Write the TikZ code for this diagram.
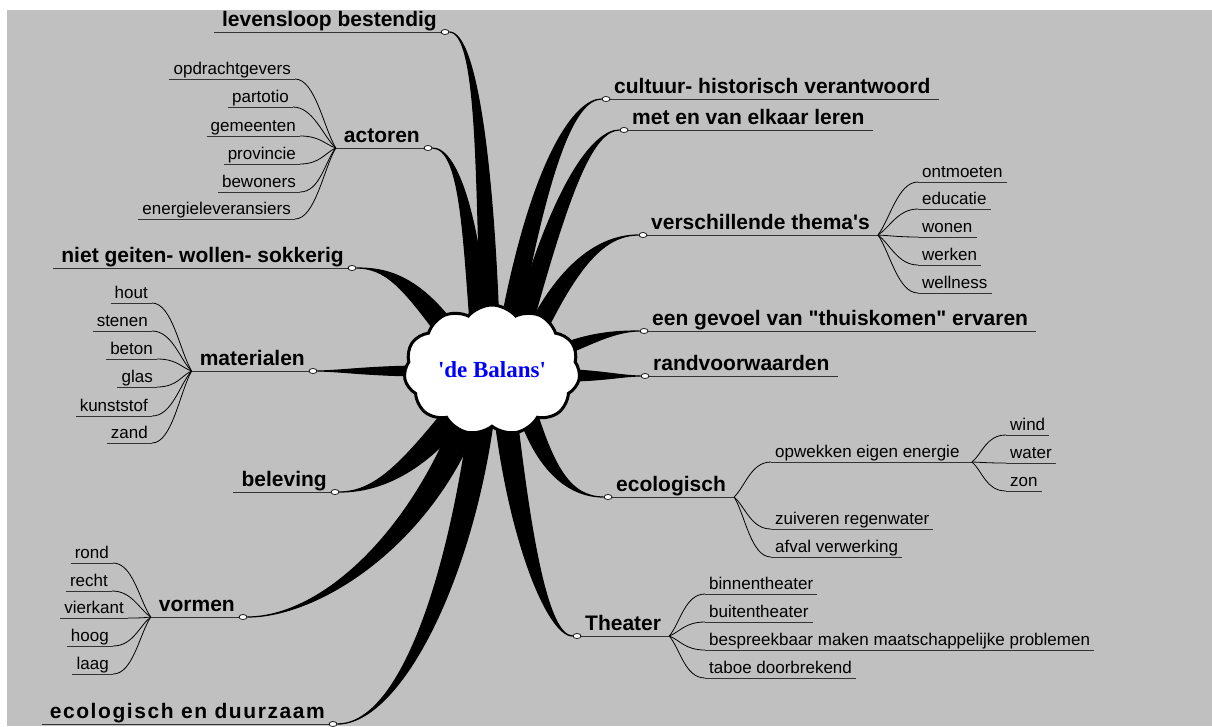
\documentclass[tikz,border=0pt]{standalone}
\usepackage{fontspec}
\setmainfont{Liberation Sans}
\newfontfamily\balansfont{Liberation Serif}
\newfontfamily\widefont{Liberation Sans}[LetterSpace=7.5]
\usetikzlibrary{calc,shapes.symbols,shapes.geometric}
\pgfdeclarelayer{bg}
\pgfsetlayers{bg,main}
\definecolor{canvas}{RGB}{192,192,192}
\definecolor{balansblue}{RGB}{0,0,255}
% tapered main branch: start, control 1, control 2, end, half width
\newcommand{\branch}[5]{%
  \filldraw[line width=1.2pt] (#1) .. controls (#2) and ($(#3)!#5!-90:(#4)$) .. ($(#4)!#5!90:(#3)$)
    -- ($(#4)!#5!-90:(#3)$) .. controls ($(#3)!#5!90:(#4)$) and (#2) .. (#1);}
\begin{document}
\begin{tikzpicture}[x=1pt, y=-1pt,
  topic/.style={font=\bfseries\fontsize{21}{24}\selectfont, inner xsep=8pt, inner ysep=0.5pt, text height=15pt, text depth=4.5pt},
  sub/.style={font=\fontsize{17}{20}\selectfont, inner xsep=4pt, inner ysep=0.5pt, text height=12pt, text depth=3.7pt},
  knob/.style={ellipse, draw, fill=white, line width=0.7pt, minimum width=8pt, minimum height=5pt, inner sep=0pt},
  uline/.style={line width=1pt, draw=black!80},
  twig/.style={line width=0.8pt}]
\useasboundingbox (0,0) rectangle (1212,726);
\begin{pgfonlayer}{bg}
\fill[white] (0,0) rectangle (1212,726);
\fill[canvas] (7,10) rectangle (1212,726);
\end{pgfonlayer}

% centre
\node[cloud, cloud puffs=11, cloud puff arc=100, aspect=1.35, draw, line width=3pt, fill=white,
  minimum width=176pt, minimum height=130pt, inner sep=0pt] (balans) at (492,370)
  {\balansfont\bfseries\fontsize{23}{27}\selectfont\color{balansblue}\textquotesingle de Balans\textquotesingle};

% main topics, left side
\node[topic, anchor=south east] (lev) at (445,32) {levensloop bestendig};
\node[topic, anchor=south east] (act) at (428,148) {actoren};
\node[topic, anchor=south east] (nie) at (352,268) {niet geiten- wollen- sokkerig};
\node[topic, anchor=south east] (mat) at (313,371) {materialen};
\node[topic, anchor=south east] (bel) at (335,492) {beleving};
\node[topic, anchor=south east] (vor) at (243,617) {vormen};
\node[topic, anchor=south east, font=\widefont\bfseries\fontsize{21}{24}\selectfont] (duu) at (333,724) {ecologisch en duurzaam};
% main topics, right side
\node[topic, anchor=south west] (cul) at (606,99) {cultuur- historisch verantwoord};
\node[topic, anchor=south west] (met) at (624,130) {met en van elkaar leren};
\node[topic, anchor=south west] (the) at (643,235) {verschillende thema\textquotesingle s};
\node[topic, anchor=south west] (gev) at (644,331) {een gevoel van \textquotedbl thuiskomen\textquotedbl\ ervaren};
\node[topic, anchor=south west] (ran) at (645,376) {randvoorwaarden};
\node[topic, anchor=south west] (eco) at (608,497) {ecologisch};
\node[topic, anchor=south west] (tea) at (577,636) {Theater};

% sub topics
\foreach \n/\t/\x/\y in {opd/opdrachtgevers/295/79, par/partotio/293/107, gem/gemeenten/300/136,
    pro/provincie/300/164, bew/bewoners/300/192, ene/energieleveransiers/295/219,
    hou/hout/152/303, ste/stenen/152/331, bet/beton/157/359, gla/glas/157/387,
    kun/kunststof/152/416, zan/zand/152/443,
    ron/rond/113/563, rec/recht/112/591, vie/vierkant/128/618, hoo/hoog/113/646, laa/laag/113/674}
  \node[sub, anchor=south east] (\n) at (\x,\y) {\t};
\foreach \n/\t/\x/\y in {ont/ontmoeten/918/182, edu/educatie/918/209, won/wonen/918/237,
    wer/werken/918/265, wel/wellness/918/293,
    opw/opwekken eigen energie/771/462, zui/zuiveren regenwater/771/529, afv/afval verwerking/771/557,
    win/wind/1006/435, wat/water/1006/463, zon/zon/1006/491,
    bin/binnentheater/705/594, bui/buitentheater/705/622,
    bes/bespreekbaar maken maatschappelijke problemen/705/650, tab/taboe doorbrekend/705/678}
  \node[sub, anchor=south west] (\n) at (\x,\y) {\t};
\coordinate (opw-hub) at (972,462);

% underlines
\foreach \n in {lev,act,nie,mat,bel,vor,duu,cul,met,the,gev,ran,eco,tea,
    opd,par,gem,pro,bew,ene,hou,ste,bet,gla,kun,zan,ron,rec,vie,hoo,laa,
    ont,edu,won,wer,wel,zui,afv,win,wat,zon,bin,bui,bes,tab}
  \draw[uline] (\n.south west) -- (\n.south east);
\draw[uline] (opw.south west) -- (opw-hub);

% twigs
\foreach \s in {opd,par,gem,pro,bew,ene}
  \draw[twig] (act.south west) .. controls ($(act.south west)!0.3!(\s.south east)$) and ($(\s.south east)+(20,0)$) .. (\s.south east);
\foreach \s in {hou,ste,bet,gla,kun,zan}
  \draw[twig] (mat.south west) .. controls ($(mat.south west)!0.3!(\s.south east)$) and ($(\s.south east)+(20,0)$) .. (\s.south east);
\foreach \s in {ron,rec,vie,hoo,laa}
  \draw[twig] (vor.south west) .. controls ($(vor.south west)!0.3!(\s.south east)$) and ($(\s.south east)+(20,0)$) .. (\s.south east);
\foreach \s in {ont,edu,won,wer,wel}
  \draw[twig] (the.south east) .. controls ($(the.south east)!0.3!(\s.south west)$) and ($(\s.south west)+(-20,0)$) .. (\s.south west);
\foreach \s in {opw,zui,afv}
  \draw[twig] (eco.south east) .. controls ($(eco.south east)!0.3!(\s.south west)$) and ($(\s.south west)+(-20,0)$) .. (\s.south west);
\foreach \s in {win,wat,zon}
  \draw[twig] (opw-hub) .. controls ($(opw-hub)!0.3!(\s.south west)$) and ($(\s.south west)+(-20,0)$) .. (\s.south west);
\foreach \s in {bin,bui,bes,tab}
  \draw[twig] (tea.south east) .. controls ($(tea.south east)!0.3!(\s.south west)$) and ($(\s.south west)+(-20,0)$) .. (\s.south west);

% knobs
\foreach \n in {lev,act,nie,mat,bel,vor,duu}
  \node[knob] (k-\n) at (\n.south east) {};
\foreach \n in {cul,met,the,gev,ran,eco,tea}
  \node[knob] (k-\n) at (\n.south west) {};

% branches to the centre
\begin{pgfonlayer}{bg}
\coordinate (e-lev) at (490,330);
\coordinate (e-act) at (480,335);
\coordinate (e-nie) at (450,335);
\coordinate (e-mat) at (430,371);
\coordinate (e-bel) at (455,415);
\coordinate (e-vor) at (468,415);
\coordinate (e-duu) at (482,415);
\coordinate (e-cul) at (508,335);
\coordinate (e-met) at (520,335);
\coordinate (e-the) at (532,340);
\coordinate (e-gev) at (550,355);
\coordinate (e-ran) at (550,375);
\coordinate (e-eco) at (525,405);
\coordinate (e-tea) at (505,410);
\branch{k-lev}{478,32}{485,180}{e-lev}{9pt}
\branch{k-act}{460,148}{472,230}{e-act}{9pt}
\branch{k-nie}{385,268}{410,280}{e-nie}{10pt}
\branch{k-mat}{340,371}{370,371}{e-mat}{5pt}
\branch{k-bel}{375,492}{410,470}{e-bel}{11pt}
\branch{k-vor}{320,617}{420,540}{e-vor}{12pt}
\branch{k-duu}{400,724}{460,580}{e-duu}{12pt}
\branch{k-cul}{575,99}{540,160}{e-cul}{9pt}
\branch{k-met}{592,130}{560,190}{e-met}{9pt}
\branch{k-the}{605,235}{570,260}{e-the}{9pt}
\branch{k-gev}{615,331}{590,338}{e-gev}{6pt}
\branch{k-ran}{620,376}{600,376}{e-ran}{6pt}
\branch{k-eco}{570,497}{545,470}{e-eco}{9pt}
\branch{k-tea}{548,636}{520,540}{e-tea}{11pt}
\end{pgfonlayer}
\end{tikzpicture}
\end{document}
